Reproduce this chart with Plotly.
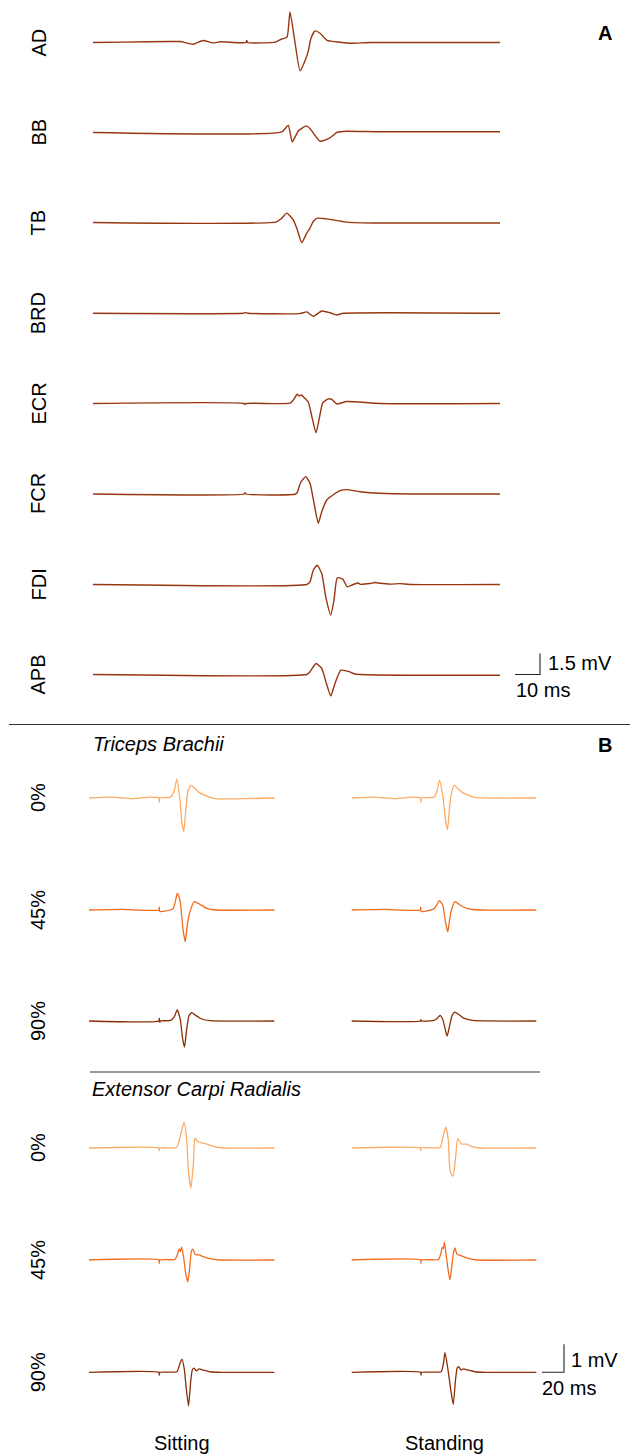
import plotly.graph_objects as go

# ---------------- DATA ----------------
# Panel A: motor evoked potentials per muscle (time in ms, amplitude in mV)
A_MUSCLES = ["AD", "BB", "TB", "BRD", "ECR", "FCR", "FDI", "APB"]

AD_T = [0, 12, 31, 35, 40, 44, 48, 51, 61.2, 61.5, 61.8, 73, 75.5, 77.6, 78.8, 80.8, 82.8, 84.4, 86, 87.2, 88.8, 90.8, 93.6, 98.8, 103.6, 111, 162.8]
AD_V = [0, 0.03, 0.07, 0.07, -0.12, 0.14, -0.03, 0.05, 0, 0.15, 0, 0.03, 0.25, 0.38, 2.19, 0.0, -2.03, -1.48, -0.69, 0.31, 0.83, 0.66, 0.16, 0.02, -0.05, 0, 0]

BB_T = [0, 75.5, 78.1, 79.7, 82.1, 83.5, 85.2, 86.8, 90.8, 94.8, 97.7, 101.5, 114.8, 162.8]
BB_V = [0, 0.05, 0.52, -0.67, 0.11, 0.29, 0.47, 0.29, -0.62, -0.39, 0.02, 0.09, 0.05, 0.05]

TB_T = [0, 73.5, 75.5, 77.5, 80.1, 81.5, 83.5, 85.5, 86.8, 88.1, 89.7, 93.5, 101.5, 114.8, 162.8]
TB_V = [0, 0.05, 0.31, 0.67, 0.19, -0.4, -1.43, -0.76, -0.40, 0.07, 0.31, 0.26, 0.03, -0.04, -0.04]

BRD_T = [0, 60, 61, 62, 82.8, 85.5, 88.1, 91.5, 94.8, 97.5, 100.1, 162.8]
BRD_V = [0, 0, 0.05, 0, -0.02, 0.1, -0.21, 0.16, 0.04, -0.12, 0, 0]

ECR_T = [0, 60.4, 60.8, 61.2, 78.8, 80.1, 81.7, 82.5, 83.3, 84.8, 86.1, 87.6, 89.2, 90.6, 91.9, 94.1, 95.5, 97.5, 101.5, 114.8, 162.8]
ECR_V = [0, 0, -0.08, 0, 0.02, 0.24, 0.66, 0.54, 0.61, 0.36, 0.11, -0.98, -2.10, -0.98, 0.04, 0.33, 0.29, -0.03, 0.14, 0, 0]

FCR_T = [0, 60.4, 60.8, 61.2, 80.8, 81.7, 83.1, 85.1, 86.8, 88.4, 90.1, 91.5, 93.5, 96.4, 98.8, 101.5, 106.8, 114.8, 130.8, 162.8]
FCR_V = [0, 0, 0.1, 0, -0.02, 0.12, 0.84, 1.24, 0.76, -0.64, -2.09, -1.26, -0.43, -0.02, 0.24, 0.31, 0.16, 0.05, 0, 0]

FDI_T = [0, 85.5, 86.8, 88.1, 89.7, 91.5, 93.2, 95.1, 96.4, 97.7, 99.9, 101.7, 104.1, 106.1, 106.8, 110.8, 112.8, 114.8, 118.8, 122.8, 126.8, 162.8]
FDI_V = [0, 0, 0.19, 1.02, 1.38, 0.78, -0.98, -2.19, -1.12, 0.48, 0.38, -0.17, 0, 0.11, 0.02, 0.07, 0.14, 0.09, 0.03, 0.06, 0, 0]

APB_T = [0, 85.5, 86.8, 89.2, 91.5, 93.2, 95.1, 96.8, 99.1, 101.2, 102.5, 104.8, 162.8]
APB_V = [0, 0, 0.19, 0.79, 0.43, -0.55, -1.53, -0.64, 0.31, 0.26, 0.21, 0.04, -0.05]

A_TRACES = [(AD_T, AD_V), (BB_T, BB_V), (TB_T, TB_V), (BRD_T, BRD_V),
            (ECR_T, ECR_V), (FCR_T, FCR_V), (FDI_T, FDI_V), (APB_T, APB_V)]

# Panel B: contraction levels, postures
B_LEVELS = ["0%", "45%", "90%"]
B_POSTURES = ["Sitting", "Standing"]
B_MUSCLES = ["Triceps Brachii", "Extensor Carpi Radialis"]

TB_SIT_0_T = [0, 20, 40, 55, 63.5, 63.9, 64.3, 74, 77.5, 79.8, 82.5, 84.5, 86.2, 88, 90, 92.7, 96, 100, 105, 110, 116, 168.5]
TB_SIT_0_V = [0, 0.03, -0.02, 0.03, 0, -0.15, 0, 0.03, 0.25, 0.68, 0.0, -0.9, -1.2, -0.4, 0.25, 0.45, 0.35, 0.2, 0.1, 0.02, -0.03, 0]
TB_STA_0_T = [0, 20, 40, 55, 62.6, 63, 63.4, 75, 77.8, 80, 83.2, 85.5, 87.3, 89, 90.5, 93.5, 96.8, 100.8, 106, 111.8, 168]
TB_STA_0_V = [0, 0.03, -0.02, 0.03, 0, -0.15, 0, 0.03, 0.25, 0.64, 0.0, -0.8, -1.14, -0.4, 0.1, 0.46, 0.33, 0.2, 0.1, 0.02, 0]

TB_SIT_45_T = [0, 30, 63.5, 63.9, 64.3, 73.6, 76.6, 78.5, 80.3, 82.7, 85.5, 87.5, 89.5, 91.8, 95.7, 100.9, 107, 116.1, 168.5]
TB_SIT_45_V = [0, 0.02, 0, 0.1, -0.05, 0, 0.06, 0.3, 0.6, 0.36, -0.7, -1.13, -0.5, -0.06, 0.3, 0.2, 0.06, 0, 0]
TB_STA_45_T = [0, 30, 62.5, 62.9, 63.3, 74.4, 77.5, 79.8, 82.9, 85.5, 87.5, 89, 90.5, 94.1, 98.6, 106.2, 116.8, 168]
TB_STA_45_V = [0, 0.02, 0, 0.1, -0.05, 0.03, 0.18, 0.33, 0.18, -0.45, -0.78, -0.4, -0.06, 0.3, 0.18, 0.04, 0, 0]

TB_SIT_90_T = [0, 63.5, 63.9, 64.3, 64.8, 74, 77.5, 80.2, 83, 85, 86.8, 88.8, 91, 93.5, 97, 102, 110, 168.5]
TB_SIT_90_V = [0, 0, 0.1, -0.05, 0, 0.02, 0.15, 0.4, 0.05, -0.6, -0.93, -0.3, 0.2, 0.3, 0.2, 0.08, 0.01, 0]
TB_STA_90_T = [0, 62.8, 63.2, 63.6, 75, 78, 80.5, 83, 85.5, 87, 89, 91.5, 94, 97, 102, 110, 168]
TB_STA_90_V = [0, 0, 0.05, 0, 0.02, 0.1, 0.2, 0.05, -0.35, -0.54, -0.2, 0.2, 0.32, 0.25, 0.1, 0.02, 0]

ECR_SIT_0_T = [0, 63.5, 63.9, 64.3, 79.7, 82.7, 86.4, 88.8, 90.3, 92.7, 94.8, 96.4, 98.5, 102.5, 106.4, 113, 122.1, 168.5]
ECR_SIT_0_V = [0, 0, -0.1, 0, 0.02, 0.38, 0.92, 0.3, -0.8, -1.43, -0.6, 0.36, 0.24, 0.18, 0.15, 0.06, 0, 0]
ECR_STA_0_T = [0, 62.5, 62.9, 63.3, 80.5, 82.9, 85.6, 88, 89.5, 91.5, 92.5, 94.7, 96.5, 100.2, 104.7, 109.3, 116.8, 168]
ECR_STA_0_V = [0, 0, -0.1, 0, 0.02, 0.36, 0.75, 0.3, -0.8, -0.98, -1.0, -0.3, 0.33, 0.14, 0.14, 0.05, 0, 0]

ECR_SIT_45_T = [0, 63.5, 63.9, 64.3, 78, 80, 82, 83, 84.2, 86, 88, 89.8, 91.5, 93, 94.5, 96.5, 100, 105, 112, 120, 168.5]
ECR_SIT_45_V = [0, 0, -0.12, 0, 0.02, 0.15, 0.4, 0.3, 0.46, 0.1, -0.5, -0.79, -0.3, 0.3, 0.39, 0.2, 0.18, 0.1, 0.03, 0, 0]
ECR_STA_45_T = [0, 62.8, 63.2, 63.6, 79, 81, 82.5, 83.5, 84.5, 86, 88, 89.5, 91, 92.5, 94, 96, 100, 106, 114, 168]
ECR_STA_45_V = [0, 0, -0.12, 0, 0.02, 0.2, 0.45, 0.4, 0.64, 0.2, -0.4, -0.71, -0.3, 0.2, 0.43, 0.2, 0.15, 0.06, 0, 0]

ECR_SIT_90_T = [0, 63.5, 63.9, 64.5, 80, 82.5, 84.5, 86.5, 88.5, 90.5, 92.5, 94, 95.5, 97.5, 100, 104, 110, 120, 168.5]
ECR_SIT_90_V = [0, 0, -0.1, 0, 0.02, 0.3, 0.47, 0.15, -0.6, -1.2, -0.3, 0.1, 0.15, 0.05, 0.12, 0.08, 0.02, 0, 0]
ECR_STA_90_T = [0, 62.8, 63.2, 63.8, 81.5, 83.5, 85, 87.5, 90.5, 92.5, 94.5, 96, 97.5, 99.5, 101.5, 106, 112, 122, 168]
ECR_STA_90_V = [0, 0, -0.1, 0, 0.02, 0.3, 0.71, 0.15, -0.7, -1.15, -0.3, 0.15, 0.2, 0.08, 0.12, 0.08, 0.02, 0, 0]

B_TRACES = [
    [(TB_SIT_0_T, TB_SIT_0_V), (TB_STA_0_T, TB_STA_0_V)],
    [(TB_SIT_45_T, TB_SIT_45_V), (TB_STA_45_T, TB_STA_45_V)],
    [(TB_SIT_90_T, TB_SIT_90_V), (TB_STA_90_T, TB_STA_90_V)],
    [(ECR_SIT_0_T, ECR_SIT_0_V), (ECR_STA_0_T, ECR_STA_0_V)],
    [(ECR_SIT_45_T, ECR_SIT_45_V), (ECR_STA_45_T, ECR_STA_45_V)],
    [(ECR_SIT_90_T, ECR_SIT_90_V), (ECR_STA_90_T, ECR_STA_90_V)],
]

SCALE_A_MS, SCALE_A_MV = 10, 1.5
SCALE_B_MS, SCALE_B_MV = 20, 1

# ---------------- LAYOUT / STYLE ----------------
W, H = 630, 1454
FONT = "Liberation Sans, Arial, Helvetica, sans-serif"
A_COLOR = "#983610"
B_COLORS = ["#FDAA63", "#F26A1B", "#8A2E06"]
BAR_COLOR = "#222222"

A_X0, A_X1 = 93, 575
A_PX_MS = 2.5
A_PX_MV = 21 / 1.5
A_BASE = [42.5, 132.5, 222.5, 313.3, 403.5, 494, 584.5, 674.5]
A_HALF = 44
A_BAR_X = 515

B_X0 = [89, 351.5]
B_WIDTH = 240
B_PX_MS = 1.1
B_PX_MV = 28
B_BASE = [798, 910, 1021, 1148, 1260, 1372.3]
B_HALF = 52
B_BAR_X = 542

fig = go.Figure()
layout_axes = {}
n_ax = [0]


def new_axes(x0, x1, base, half, px_ms, px_mv):
    n_ax[0] += 1
    i = n_ax[0]
    sfx = "" if i == 1 else str(i)
    top = max(0.0, base - half)
    bot = min(float(H), base + half)
    layout_axes["xaxis" + sfx] = dict(domain=[x0 / W, min(1.0, x1 / W)], range=[0, (min(W, x1) - x0) / px_ms],
                                      visible=False, anchor="y" + sfx, fixedrange=True)
    layout_axes["yaxis" + sfx] = dict(domain=[1 - bot / H, 1 - top / H],
                                      range=[-(bot - base) / px_mv, (base - top) / px_mv],
                                      visible=False, anchor="x" + sfx, fixedrange=True)
    return "x" + sfx, "y" + sfx


def add_line(xa, ya, t, v, color, width, spline=True):
    fig.add_trace(go.Scatter(
        x=t, y=v, xaxis=xa, yaxis=ya, mode="lines",
        line=dict(color=color, width=width, shape="spline" if spline else "linear", smoothing=0.5),
        showlegend=False, hoverinfo="skip"))


annotations = []


def label(text, px, py, size=20, angle=0, xanchor="center", italic=False, bold=False):
    t = text
    if bold:
        t = "<b>" + t + "</b>"
    if italic:
        t = "<i>" + t + "</i>"
    annotations.append(dict(text=t, x=px / W, y=1 - py / H, xref="paper", yref="paper",
                            showarrow=False, textangle=angle, xanchor=xanchor, yanchor="middle",
                            font=dict(family=FONT, size=size, color="black")))


# Panel A
for k, (name, (t, v)) in enumerate(zip(A_MUSCLES, A_TRACES)):
    xa, ya = new_axes(A_X0, A_X1, A_BASE[k], A_HALF, A_PX_MS, A_PX_MV)
    add_line(xa, ya, t, v, A_COLOR, 1.4)
    label(name, 38, A_BASE[k], angle=-90)
    if k == len(A_MUSCLES) - 1:
        s0 = (A_BAR_X - A_X0) / A_PX_MS
        add_line(xa, ya, [s0, s0 + SCALE_A_MS, s0 + SCALE_A_MS], [0, 0, SCALE_A_MV], BAR_COLOR, 1.1, spline=False)

label("1.5 mV", 546, 663, xanchor="left")
label("10 ms", 514, 690, xanchor="left")
label("A", 605, 33, bold=True)

# Panel B
for r, pair in enumerate(B_TRACES):
    lvl = r % 3
    for c, (t, v) in enumerate(pair):
        xa, ya = new_axes(B_X0[c], B_X0[c] + B_WIDTH, B_BASE[r], B_HALF, B_PX_MS, B_PX_MV)
        add_line(xa, ya, t, v, B_COLORS[lvl], 1.3)
        if r == len(B_TRACES) - 1 and c == 1:
            s0 = (B_BAR_X - B_X0[c]) / B_PX_MS
            add_line(xa, ya, [s0, s0 + SCALE_B_MS, s0 + SCALE_B_MS], [0, 0, SCALE_B_MV], BAR_COLOR, 1.1, spline=False)
    label(B_LEVELS[lvl], 38, B_BASE[r], angle=-90)

label("1 mV", 569, 1360, xanchor="left")
label("20 ms", 540, 1388, xanchor="left")
label("B", 605, 745, bold=True)
label(B_MUSCLES[0], 91, 744, xanchor="left", italic=True)
label(B_MUSCLES[1], 90, 1089, xanchor="left", italic=True)
label(B_POSTURES[0], 182, 1443)
label(B_POSTURES[1], 444, 1443)

shapes = [
    dict(type="line", xref="paper", yref="paper", x0=9 / W, x1=1, y0=1 - 724.5 / H, y1=1 - 724.5 / H,
         line=dict(color="#333333", width=1.2)),
    dict(type="line", xref="paper", yref="paper", x0=90 / W, x1=540 / W, y0=1 - 1072 / H, y1=1 - 1072 / H,
         line=dict(color="#333333", width=1.2)),
]

fig.update_layout(width=W, height=H, margin=dict(l=0, r=0, t=0, b=0),
                  paper_bgcolor="white", plot_bgcolor="rgba(0,0,0,0)",
                  annotations=annotations, shapes=shapes, showlegend=False, **layout_axes)

fig.write_html("out.html", config={"displayModeBar": False})
